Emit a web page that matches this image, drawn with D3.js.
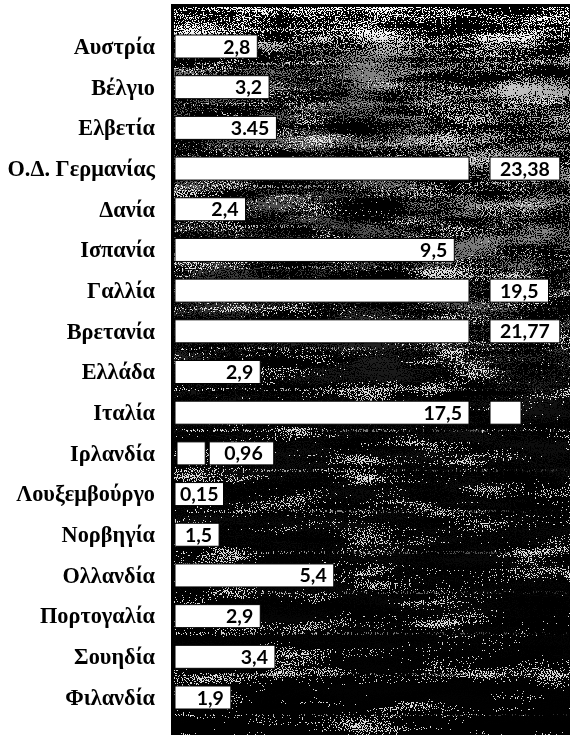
<!DOCTYPE html>
<html><head><meta charset="utf-8">
<script src="https://cdn.jsdelivr.net/npm/d3@7/dist/d3.min.js"></script>
<style>html,body{margin:0;padding:0;background:#fff;}svg{display:block;}</style>
</head><body>
<script>
const categories = ["Αυστρία","Βέλγιο","Ελβετία","Ο.Δ. Γερμανίας","Δανία","Ισπανία","Γαλλία","Βρετανία","Ελλάδα","Ιταλία","Ιρλανδία","Λουξεμβούργο","Νορβηγία","Ολλανδία","Πορτογαλία","Σουηδία","Φιλανδία"];
const values = [2.8,3.2,3.45,23.38,2.4,9.5,19.5,21.77,2.9,17.5,0.96,0.15,1.5,5.4,2.9,3.4,1.9];
const valueLabels = ["2,8","3,2","3.45","23,38","2,4","9,5","19,5","21,77","2,9","17,5","0,96","0,15","1,5","5,4","2,9","3,4","1,9"];
const breakValue = 10;            // bars longer than this are drawn broken
const labelInsideBroken = ["Ιταλία"]; // broken bar whose label sits in the main part

const W = 570, H = 735;
const svg = d3.select("body").append("svg").attr("width", W).attr("height", H);
const defs = svg.append("defs");

function grain(id, seed, thr, freq, kc) {
  const f = defs.append("filter").attr("id", id).attr("x", 0).attr("y", 0).attr("width", 1).attr("height", 1)
    .attr("color-interpolation-filters", "sRGB");
  f.append("feTurbulence").attr("type", "fractalNoise").attr("baseFrequency", freq || "0.8").attr("numOctaves", 1).attr("seed", seed).attr("result", "fine0");
  f.append("feColorMatrix").attr("in", "fine0").attr("type", "matrix")
    .attr("values", "1 0 0 0 0  1 0 0 0 0  1 0 0 0 0  0 0 0 0 1").attr("result", "fine");
  f.append("feTurbulence").attr("type", "fractalNoise").attr("baseFrequency", "0.012 0.06").attr("numOctaves", 3).attr("seed", seed + 5).attr("result", "coarse0");
  f.append("feColorMatrix").attr("in", "coarse0").attr("type", "matrix")
    .attr("values", "1 0 0 0 0  1 0 0 0 0  1 0 0 0 0  0 0 0 0 1").attr("result", "coarse");
  f.append("feComposite").attr("in", "fine").attr("in2", "coarse").attr("operator", "arithmetic")
    .attr("k1", 0).attr("k2", 1).attr("k3", kc).attr("k4", -kc / 2).attr("result", "sum");
  f.append("feColorMatrix").attr("in", "sum").attr("type", "matrix")
    .attr("values", "0 0 0 0 1  0 0 0 0 1  0 0 0 0 1  1 0 0 0 0").attr("result", "a");
  const ct = f.append("feComponentTransfer").attr("in", "a");
  const n = 50, t = [];
  for (let i = 0; i < n; i++) t.push(i / n >= thr ? 1 : 0);
  ct.append("feFuncA").attr("type", "discrete").attr("tableValues", t.join(" "));
}
grain("gSparse", 3, 0.70, "0.85", 0.7);
grain("gDense", 11, 0.56, "0.85", 0.6);
grain("gStreak", 21, 0.60, "0.9 0.4", 0.3);

const lg1 = defs.append("linearGradient").attr("id", "topFade").attr("x1", 0).attr("y1", 0).attr("x2", 0).attr("y2", 1);
lg1.append("stop").attr("offset", "0").attr("stop-color", "#fff").attr("stop-opacity", 1);
lg1.append("stop").attr("offset", "0.045").attr("stop-color", "#fff").attr("stop-opacity", 0.95);
lg1.append("stop").attr("offset", "0.08").attr("stop-color", "#fff").attr("stop-opacity", 0.45);
lg1.append("stop").attr("offset", "0.35").attr("stop-color", "#fff").attr("stop-opacity", 0.25);
lg1.append("stop").attr("offset", "0.55").attr("stop-color", "#fff").attr("stop-opacity", 0.06);
lg1.append("stop").attr("offset", "1").attr("stop-color", "#fff").attr("stop-opacity", 0);
const rg = defs.append("radialGradient").attr("id", "urGlow").attr("cx", 0.85).attr("cy", 0.12).attr("r", 0.45);
rg.append("stop").attr("offset", "0").attr("stop-color", "#fff").attr("stop-opacity", 0.6);
rg.append("stop").attr("offset", "1").attr("stop-color", "#fff").attr("stop-opacity", 0);
const m1 = defs.append("mask").attr("id", "mTop");
m1.append("rect").attr("x", 0).attr("y", 0).attr("width", W).attr("height", H).attr("fill", "url(#topFade)");
m1.append("rect").attr("x", 171).attr("y", 0).attr("width", W - 171).attr("height", H).attr("fill", "url(#urGlow)");

const lg2 = defs.append("linearGradient").attr("id", "streakFade").attr("x1", 0).attr("y1", 0).attr("x2", 1).attr("y2", 0);
lg2.append("stop").attr("offset", "0").attr("stop-color", "#fff").attr("stop-opacity", 0.9);
lg2.append("stop").attr("offset", "0.4").attr("stop-color", "#fff").attr("stop-opacity", 0.5);
lg2.append("stop").attr("offset", "1").attr("stop-color", "#fff").attr("stop-opacity", 0.15);
const m2 = defs.append("mask").attr("id", "mStreak").attr("maskUnits", "userSpaceOnUse")
  .attr("x", 0).attr("y", 0).attr("width", W).attr("height", H);
m2.append("rect").attr("x", 171).attr("y", 0).attr("width", W - 171).attr("height", H).attr("fill", "url(#streakFade)");

const panel = {x: 171, y: 4, w: W - 171, h: H - 4};
svg.append("rect").attr("x", panel.x).attr("y", panel.y).attr("width", panel.w).attr("height", panel.h).attr("fill", "#000");
svg.append("rect").attr("x", panel.x + 3).attr("y", panel.y + 3).attr("width", panel.w - 3).attr("height", panel.h - 3)
  .attr("fill", "#fff").attr("filter", "url(#gSparse)").attr("opacity", 0.85);
svg.append("rect").attr("x", panel.x + 3).attr("y", panel.y + 3).attr("width", panel.w - 3).attr("height", panel.h - 3)
  .attr("fill", "#fff").attr("filter", "url(#gDense)").attr("mask", "url(#mTop)");

const y = d3.scalePoint().domain(categories).range([46.5, 697.5]);
const x = d3.scaleLinear().domain([0, breakValue]).range([175, 469]);
const boxH = 23, gap = 21;

// faint scan streaks in the gaps between rows
const streaks = svg.append("g").attr("mask", "url(#mStreak)");
categories.forEach(c => {
  streaks.append("rect").attr("x", panel.x + 4).attr("y", y(c) + boxH / 2 + 5).attr("width", panel.w - 6).attr("height", 2)
    .attr("fill", "#fff").attr("filter", "url(#gStreak)");
});

const valueFont = "Lato, 'Open Sans', sans-serif";
const nameFont = "'Liberation Serif', 'DejaVu Serif', serif";

const g = svg.append("g");

categories.forEach((c, i) => {
  const v = values[i], cy = y(c), top = cy - boxH / 2;
  g.append("text").attr("x", 155).attr("y", cy).attr("dy", "0.33em").attr("text-anchor", "end")
    .attr("font-family", nameFont).attr("font-weight", "bold").attr("font-size", 22.3).text(c);

  const row = g.append("g");
  const txt = row.append("text").attr("font-family", valueFont).attr("font-weight", "bold").attr("font-size", 19.5)
    .attr("dy", "0.36em").attr("y", cy).text(valueLabels[i]);
  const tw = txt.node().getComputedTextLength();
  const box = (x0, x1) => row.insert("rect", "text").attr("x", x0).attr("y", top).attr("width", x1 - x0).attr("height", boxH)
    .attr("fill", "#fff").attr("stroke", "#000").attr("stroke-width", 1);

  if (v > breakValue) {
    const xe = x(breakValue);
    box(x(0), xe);
    if (labelInsideBroken.includes(c)) {
      txt.attr("x", xe - 7).attr("text-anchor", "end");
      box(xe + gap, xe + gap + 31);
    } else {
      const bw = tw + 20;
      box(xe + gap, xe + gap + bw);
      txt.attr("x", xe + gap + bw / 2).attr("text-anchor", "middle");
    }
  } else {
    const w = x(v) - x(0), need = tw + 14;
    if (w >= need) {
      box(x(0), x(v));
      txt.attr("x", x(v) - 7).attr("text-anchor", "end");
    } else if (v < 1 && w >= 20) {
      box(x(0) + 2, x(v) + 2);
      const bx = x(v) + 6, bw = tw + 26;
      box(bx, bx + bw);
      txt.attr("x", bx + bw - 11).attr("text-anchor", "end");
    } else {
      const bw = tw + 10;
      box(x(0), x(0) + bw);
      txt.attr("x", x(0) + bw - 5).attr("text-anchor", "end");
    }
  }
});
</script>
</body></html>
